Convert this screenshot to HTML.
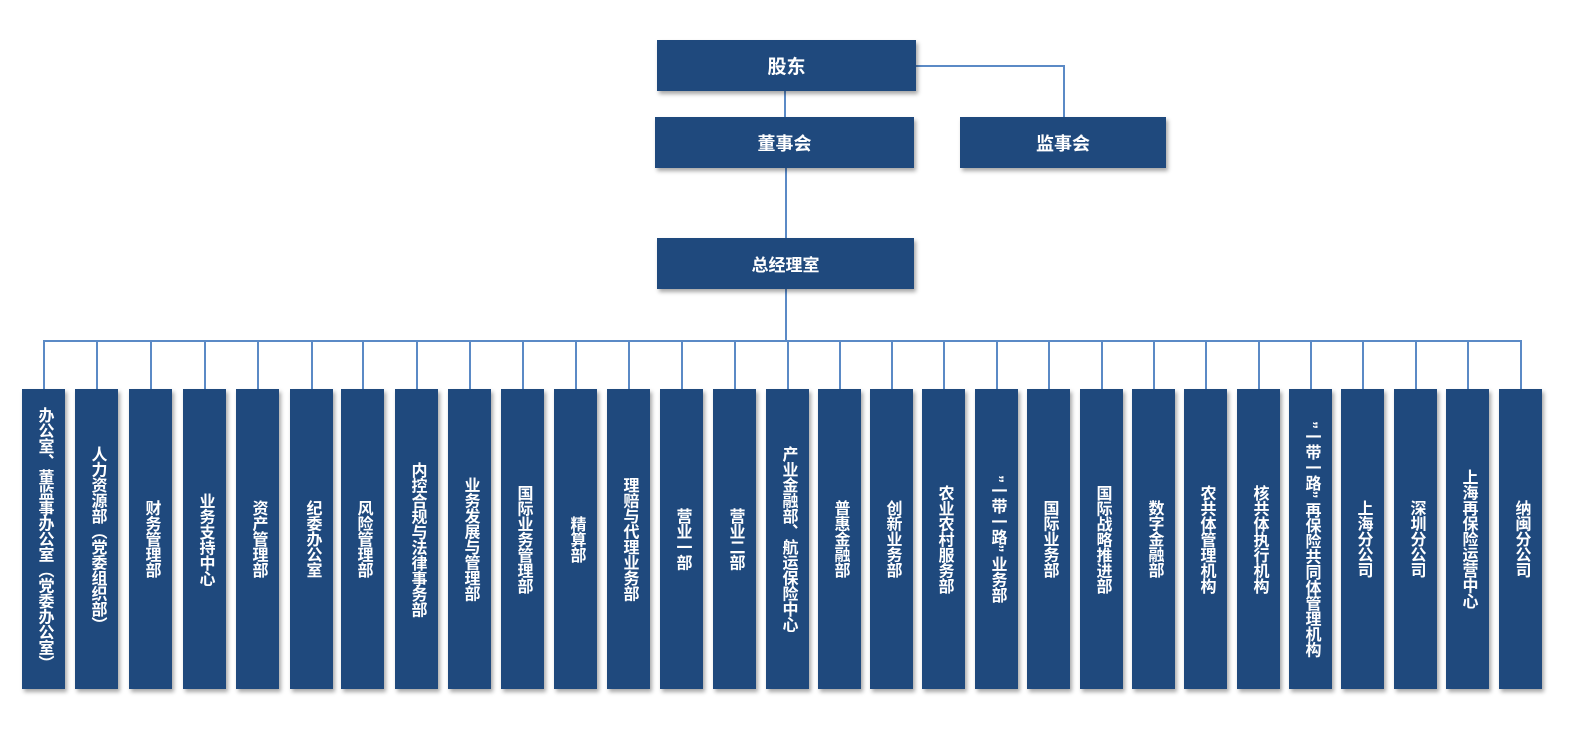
<!DOCTYPE html>
<html><head><meta charset="utf-8"><style>
body{margin:0;width:1582px;height:740px;background:#fff;position:relative;overflow:hidden;font-family:"Liberation Sans","Noto Sans CJK SC",sans-serif;}
.b{position:absolute;background:#1f497d;color:#fff;font-weight:bold;display:flex;align-items:center;justify-content:center;box-shadow:2px 3px 4px rgba(0,0,0,0.35);}
.v{top:389px;width:43px;height:300px;writing-mode:vertical-rl;font-size:16px;line-height:18px;letter-spacing:-0.5px;}
.l{position:absolute;background:#5b8ac6;}
</style></head><body>
<div class="l" style="left:784px;top:91px;width:1.5px;height:26px"></div>
<div class="l" style="left:916px;top:65px;width:147px;height:1.5px"></div>
<div class="l" style="left:1063px;top:65px;width:1.5px;height:52px"></div>
<div class="l" style="left:785px;top:168px;width:1.5px;height:70px"></div>
<div class="l" style="left:785px;top:289px;width:1.5px;height:51px"></div>
<div class="l" style="left:43px;top:340px;width:1478px;height:1.5px"></div>
<div id="vl"></div>
<div class="b" style="left:657px;top:40px;width:259px;height:51px;font-size:19px">股东</div>
<div class="b" style="left:655px;top:117px;width:259px;height:51px;font-size:18px">董事会</div>
<div class="b" style="left:960px;top:117px;width:206px;height:51px;font-size:18px">监事会</div>
<div class="b" style="left:657px;top:238px;width:257px;height:51px;font-size:17px">总经理室</div>
<script>
var xs=[22,75,129,183,236,290,341,395,448,501,554,607,660,713,766,818,870,922,975,1027,1080,1132,1184,1237,1289,1341,1394,1446,1499];
var t=["办公室、董监事办公室（党委办公室）","人力资源部（党委组织部）","财务管理部","业务支持中心","资产管理部","纪委办公室","风险管理部","内控合规与法律事务部","业务发展与管理部","国际业务管理部","精算部","理赔与代理业务部","营业一部","营业二部","产业金融部、航运保险中心","普惠金融部","创新业务部","农业农村服务部","”一带一路” 业务部","国际业务部","国际战略推进部","数字金融部","农共体管理机构","核共体执行机构","”一带一路” 再保险共同体管理机构","上海分公司","深圳分公司","上海再保险运营中心","纳闽分公司"];
var h="";
for(var i=0;i<xs.length;i++){
h+='<div class="l" style="left:'+(xs[i]+21)+'px;top:340px;width:1.5px;height:49px"></div>';
h+='<div class="b v" style="left:'+xs[i]+'px">'+t[i]+'</div>';
}
document.getElementById("vl").outerHTML=h;
</script>
</body></html>
